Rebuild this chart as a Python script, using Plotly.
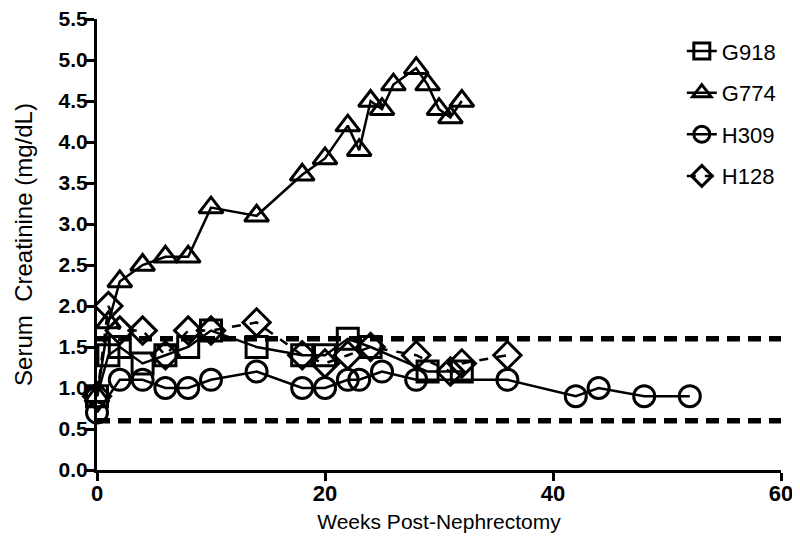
import plotly.graph_objects as go

# ---- data ----
g918_weeks = [0, 1, 2, 4, 6, 8, 10, 14, 18, 20, 22, 24, 29, 32]
g918_vals = [0.9, 1.4, 1.5, 1.3, 1.4, 1.5, 1.7, 1.5, 1.4, 1.4, 1.6, 1.5, 1.2, 1.2]

g774_weeks = [0, 1, 2, 4, 6, 8, 10, 14, 18, 20, 22, 23, 24, 25, 26, 28, 29, 30, 31, 32]
g774_vals = [0.9, 1.8, 2.3, 2.5, 2.6, 2.6, 3.2, 3.1, 3.6, 3.8, 4.2, 3.9, 4.5, 4.4, 4.7, 4.9, 4.7, 4.4, 4.3, 4.5]

h309_weeks = [0, 2, 4, 6, 8, 10, 14, 18, 20, 22, 23, 25, 28, 36, 42, 44, 48, 52]
h309_vals = [0.7, 1.1, 1.1, 1.0, 1.0, 1.1, 1.2, 1.0, 1.0, 1.1, 1.1, 1.2, 1.1, 1.1, 0.9, 1.0, 0.9, 0.9]

h128_weeks = [0, 1, 2, 4, 6, 8, 10, 14, 18, 20, 22, 24, 28, 31, 32, 36]
h128_vals = [0.9, 2.0, 1.7, 1.7, 1.4, 1.7, 1.7, 1.8, 1.4, 1.3, 1.4, 1.5, 1.4, 1.2, 1.3, 1.4]

ref_range_x = [0, 60]
ref_upper = 1.6
ref_lower = 0.6

x_ticks = [0, 20, 40, 60]
y_ticks = [0.0, 0.5, 1.0, 1.5, 2.0, 2.5, 3.0, 3.5, 4.0, 4.5, 5.0, 5.5]

FONT = "Liberation Sans, Arial, sans-serif"

fig = go.Figure()

# reference range lines
for yv in (ref_upper, ref_lower):
    fig.add_trace(go.Scatter(
        x=ref_range_x, y=[yv, yv], mode="lines",
        line=dict(color="black", width=5.5, dash="13px,8px"),
        showlegend=False, hoverinfo="skip", cliponaxis=False))

series = [
    ("G918", g918_weeks, g918_vals, "square-open", "solid"),
    ("G774", g774_weeks, g774_vals, "triangle-up-open", "solid"),
    ("H309", h309_weeks, h309_vals, "circle-open", "solid"),
    ("H128", h128_weeks, h128_vals, "diamond-open", "dash"),
]
for name, xs, ys, sym, dash in series:
    fig.add_trace(go.Scatter(
        x=xs, y=ys, name=name, legendgroup=name, mode="lines+markers",
        line=dict(color="black", width=2.5, dash=dash),
        marker=dict(symbol=sym, size=21, color="black",
                    line=dict(color="black", width=3)),
        cliponaxis=False))

fig.update_layout(
    width=792, height=540,
    margin=dict(l=89, r=19, t=11, b=78),
    plot_bgcolor="white", paper_bgcolor="white",
    font=dict(family=FONT, color="black"),
    legend=dict(x=0.855, y=0.975, xanchor="left", yanchor="top",
                font=dict(size=22), tracegroupgap=10, traceorder="grouped",
                bgcolor="rgba(0,0,0,0)", itemwidth=30),
)
fig.update_xaxes(
    range=[0, 60], tickvals=x_ticks, ticktext=[str(v) for v in x_ticks],
    automargin=False, ticklabeloverflow="allow",
    showline=True, linecolor="black", linewidth=3,
    ticks="outside", ticklen=8, tickwidth=3, tickcolor="black",
    ticklabelstandoff=-6,
    showgrid=False, zeroline=False,
    tickfont=dict(size=22, family=FONT, weight="bold"),
    title=dict(text="Weeks Post-Nephrectomy", font=dict(size=21), standoff=9),
)
fig.update_yaxes(
    range=[0, 5.5], tickvals=y_ticks, ticktext=[f"{v:.1f}" for v in y_ticks],
    automargin=False, ticklabeloverflow="allow",
    showline=True, linecolor="black", linewidth=3,
    ticks="outside", ticklen=8, tickwidth=3, tickcolor="black",
    ticklabelstandoff=-6,
    showgrid=False, zeroline=False,
    tickfont=dict(size=21, family=FONT, weight="bold"),
    title=dict(text="Serum  Creatinine (mg/dL)", font=dict(size=24), standoff=20),
)

fig.write_html("out.html")
